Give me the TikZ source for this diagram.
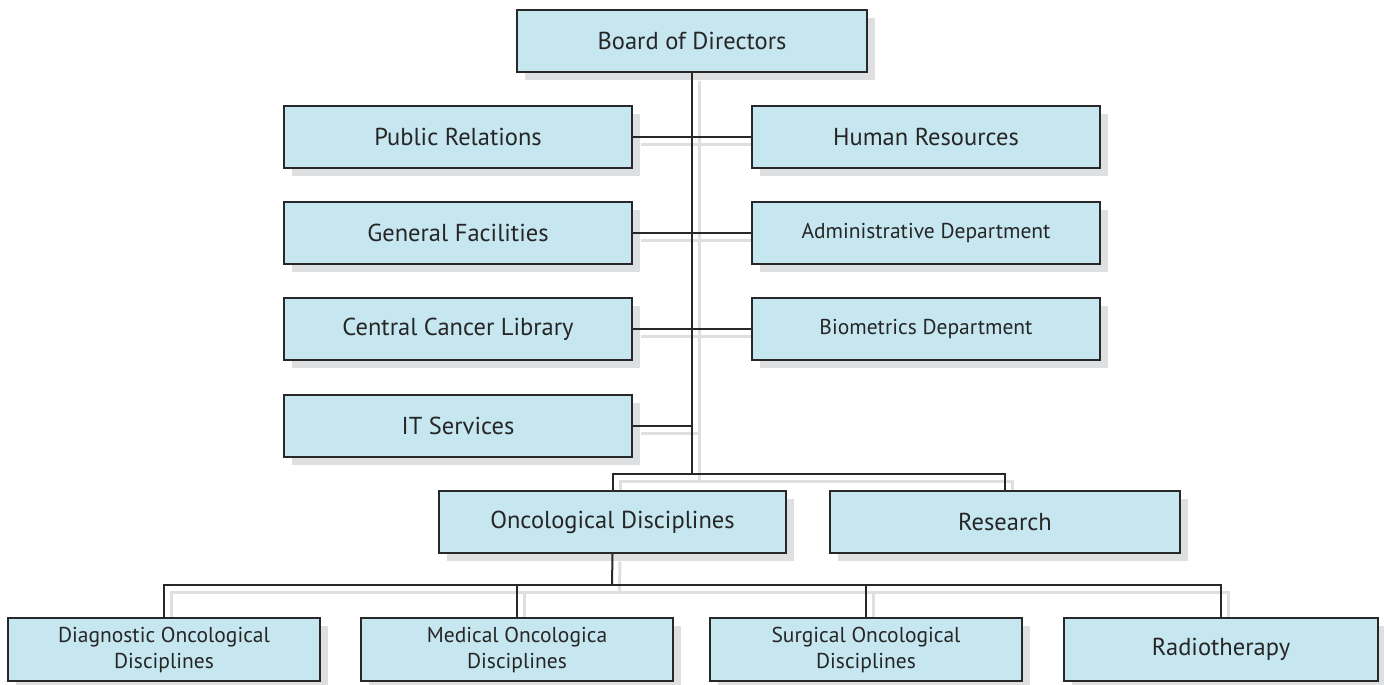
\documentclass[tikz,border=0pt]{standalone}
\usepackage{fontspec}
\setmainfont{PT Sans}
\usetikzlibrary{shadows}
\definecolor{boxfill}{RGB}{198,230,240}
\definecolor{boxline}{RGB}{40,40,40}
\definecolor{shade}{RGB}{222,223,225}
\pgfdeclarelayer{background}
\pgfsetlayers{background,main}
\tikzset{
  orgbox/.style={draw=boxline, line width=2pt, fill=boxfill, inner sep=0pt,
    align=center, text=black!85, font=\fontsize{24.5}{27}\selectfont,
    minimum height=62pt,
    drop shadow={shadow xshift=8pt, shadow yshift=-8pt, fill=shade, opacity=1}},
  smalltext/.style={font=\fontsize{21.5}{26}\selectfont},
  link/.style={draw=boxline, line width=2pt},
  linkshade/.style={draw=shade, line width=3pt}
}
% the connector layout, drawn once as a shadow and once for real
\newcommand\orglinks[1]{%
  \draw[#1] (bod.south) -- (split);
  \draw[#1] (onc.north) |- (split) -| (res.north);
  \draw[#1] (pr.east) -- (hr.west);
  \draw[#1] (gf.east) -- (adm.west);
  \draw[#1] (ccl.east) -- (bio.west);
  \draw[#1] (it.east) -- (it.east -| split);
  \draw[#1] (onc.south) -- (split2);
  \draw[#1] (diag.north) |- (split2) -| (radio.north);
  \draw[#1] (med.north) -- (med.north |- split2);
  \draw[#1] (surg.north) -- (surg.north |- split2);
}
\begin{document}
\begin{tikzpicture}[x=1pt,y=-1pt]
\useasboundingbox (0,0) rectangle (1384,685);
\coordinate (split) at (692,474);
\coordinate (split2) at (612,585);
% boxes
\node[orgbox, minimum width=350pt] (bod) at (692,41) {Board of Directors};
\node[orgbox, minimum width=348pt] (pr) at (458,137) {Public Relations};
\node[orgbox, minimum width=348pt] (hr) at (926,137) {Human Resources};
\node[orgbox, minimum width=348pt] (gf) at (458,233) {General Facilities};
\node[orgbox, minimum width=348pt, smalltext] (adm) at (926,233) {Administrative Department};
\node[orgbox, minimum width=348pt] (ccl) at (458,329) {Central Cancer Library};
\node[orgbox, minimum width=348pt, smalltext] (bio) at (926,329) {Biometrics Department};
\node[orgbox, minimum width=348pt] (it) at (458,425.5) {IT Services};
\node[orgbox, minimum width=347pt] (onc) at (612.5,522) {Oncological Disciplines};
\node[orgbox, minimum width=350pt] (res) at (1005,522) {Research};
\node[orgbox, minimum width=312pt, minimum height=63pt, smalltext] (diag) at (164,649.5) {Diagnostic Oncological\\Disciplines};
\node[orgbox, minimum width=312pt, minimum height=63pt, smalltext] (med) at (517,649.5) {Medical Oncologica\\Disciplines};
\node[orgbox, minimum width=312pt, minimum height=63pt, smalltext] (surg) at (866,649.5) {Surgical Oncological\\Disciplines};
\node[orgbox, minimum width=314pt, minimum height=63pt] (radio) at (1221,649.5) {Radiotherapy};
% link shadows, beneath the box shadows
\begin{pgfonlayer}{background}
  \begin{scope}[transform canvas={xshift=7.5pt, yshift=-7.5pt}]
    \orglinks{linkshade}
  \end{scope}
\end{pgfonlayer}
% links
\orglinks{link}
\end{tikzpicture}
\end{document}
